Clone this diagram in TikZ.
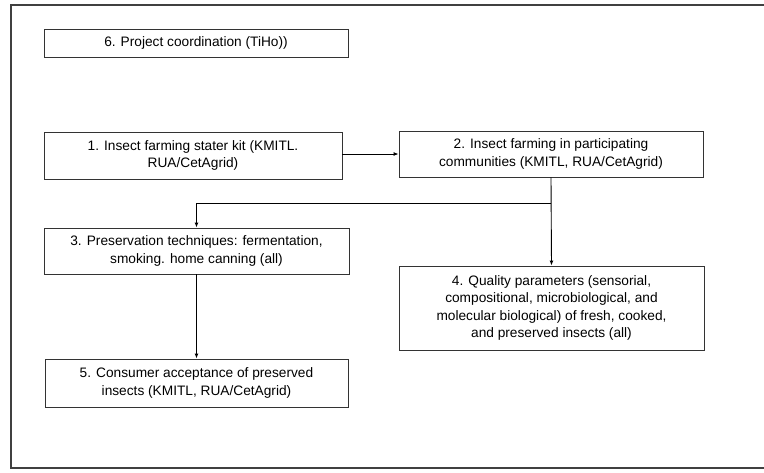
\documentclass[tikz,border=0pt]{standalone}
\usepackage{fontspec}
\setmainfont{Liberation Sans}
\usepackage{tikz}
\usetikzlibrary{arrows.meta}

\begin{document}
\begin{tikzpicture}[x=1pt, y=-1pt, >={Latex[length=5pt,width=4pt]},
	box/.style={draw=black!80, line width=0.9pt, align=center, inner sep=0pt, font=\fontsize{13.7}{17.5}\selectfont},
	every path/.style={line width=0.9pt}]
	\useasboundingbox (0,0) rectangle (764,472);
	% open frame round the chart
	\draw[black!75, line width=1.1pt] (764,5) -- (11,5) -- (11,468) -- (764,468);
	% work packages
	\node[box, minimum width=304pt, minimum height=28pt] (wp6) at (196,43) {6. Project coordination (TiHo))};
	\node[box, minimum width=298pt, minimum height=47pt] (wp1) at (193,155.5) {1. Insect farming stater kit (KMITL.\\RUA/CetAgrid)};
	\node[box, minimum width=304pt, minimum height=46pt] (wp2) at (551,154) {2. Insect farming in participating\\communities (KMITL, RUA/CetAgrid)};
	\node[box, minimum width=305pt, minimum height=46pt] (wp3) at (196.5,251) {3. Preservation techniques: fermentation,\\smoking. home canning (all)};
	\node[box, minimum width=305pt, minimum height=84pt] (wp4) at (551.5,308) {4. Quality parameters (sensorial,\\compositional, microbiological, and\\molecular biological) of fresh, cooked,\\and preserved insects (all)};
	\node[box, minimum width=303pt, minimum height=48pt] (wp5) at (196.5,383) {5. Consumer acceptance of preserved\\insects (KMITL, RUA/CetAgrid)};
	% flow
	\coordinate (split) at (wp2.south |- 0,203);
	\draw[->] (wp1.east |- wp2.west) -- (wp2.west);
	\draw[->] (wp2.south) -- (wp4.north);
	\draw[->] (split) -| (wp3.north);
	\draw[->] (wp3.south) -- (wp5.north);
\end{tikzpicture}
\end{document}
